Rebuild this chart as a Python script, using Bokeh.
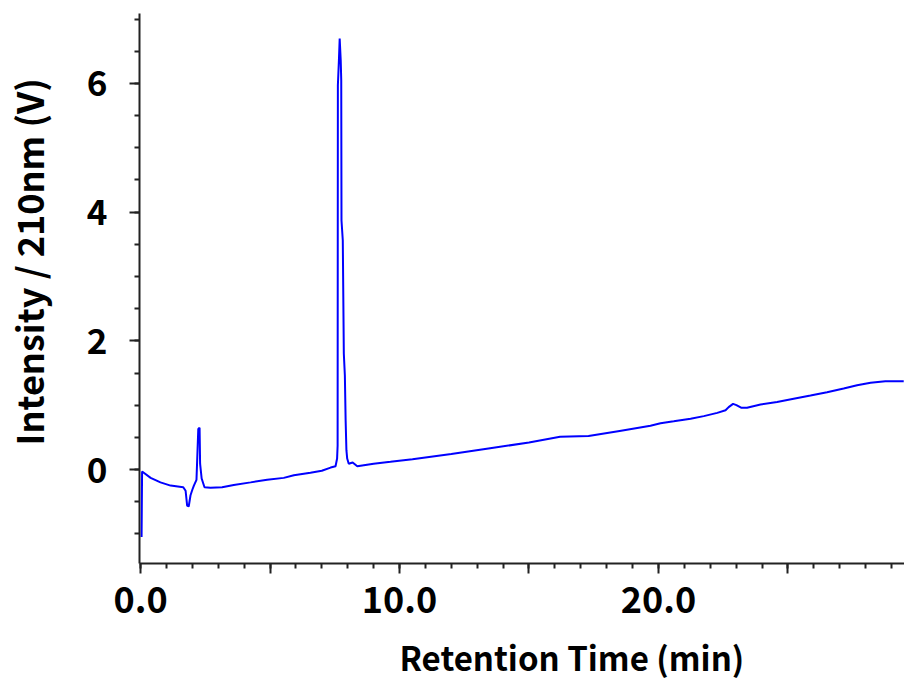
from bokeh.plotting import figure
from bokeh.models import Range1d, FixedTicker, Title
from bokeh.embed import file_html
from bokeh.resources import INLINE

# ---- data ----
time_min = [0.04, 0.06, 0.39, 0.77, 1.16, 1.65, 1.74, 1.80, 1.86, 1.93, 2.00, 2.06, 2.16,
            2.23, 2.28, 2.30, 2.36, 2.47, 2.70, 3.15, 3.60, 4.25, 4.89, 5.53, 5.92, 6.56,
            7.00, 7.34, 7.53, 7.59, 7.61, 7.62, 7.66, 7.69, 7.73, 7.75, 7.76, 7.81, 7.85,
            7.89, 7.92, 7.95, 7.98, 8.04, 8.19, 8.37, 9.00, 9.65, 10.5, 12.0, 13.5, 15.0,
            16.2, 17.3, 18.5, 19.69, 20.08, 20.59, 21.24, 21.75, 22.27, 22.59, 22.71, 22.88,
            23.01, 23.19, 23.42, 23.94, 24.58, 25.22, 25.87, 26.51, 27.15, 27.67, 28.19,
            28.76, 29.47]
intensity_v = [-1.05, -0.03, -0.13, -0.20, -0.25, -0.275, -0.33, -0.56, -0.575, -0.40, -0.315,
               -0.25, -0.16, 0.63, 0.65, 0.09, -0.14, -0.275, -0.285, -0.275, -0.24, -0.20,
               -0.16, -0.13, -0.09, -0.05, -0.02, 0.03, 0.05, 0.17, 0.37, 5.97, 6.36, 6.70,
               6.36, 6.05, 3.87, 3.56, 1.80, 1.46, 0.76, 0.30, 0.17, 0.09, 0.11, 0.05, 0.09,
               0.12, 0.16, 0.24, 0.33, 0.42, 0.51, 0.52, 0.60, 0.68, 0.72, 0.75, 0.79, 0.83,
               0.88, 0.92, 0.97, 1.02, 1.00, 0.96, 0.96, 1.01, 1.05, 1.10, 1.15, 1.20, 1.26,
               1.31, 1.35, 1.37, 1.37]

x_major_ticks = [0, 5, 10, 15, 20, 25]
x_minor_ticks = list(range(0, 30))
x_tick_labels = {0: "0.0", 5: "", 10: "10.0", 15: "", 20: "20.0", 25: ""}
y_major_ticks = [0, 2, 4, 6]
y_minor_ticks = [-1.0, -0.5, 0.0, 0.5, 1.0, 1.5, 2.0, 2.5, 3.0, 3.5, 4.0, 4.5, 5.0, 5.5, 6.0, 6.5, 7.0]
x_title = "Retention Time (min)"
y_title = "Intensity / 210nm (V)"

FONT = "Noto Sans CJK JP"

p = figure(width=904, height=686, output_backend="svg", toolbar_location=None,
           x_range=Range1d(-0.04, 29.5), y_range=Range1d(-1.461, 7.088),
           min_border_left=139, min_border_right=0, min_border_top=13, min_border_bottom=123)
p.outline_line_color = None
p.grid.visible = False
p.background_fill_color = "white"

p.line(time_min, intensity_v, line_color="#0000ff", line_width=2)

for ax in (p.xaxis[0], p.yaxis[0]):
    ax.axis_line_width = 2
    ax.axis_line_color = "#222222"
    ax.major_tick_line_width = 2
    ax.minor_tick_line_width = 2
    ax.major_tick_line_color = "#222222"
    ax.minor_tick_line_color = "#222222"
    ax.major_tick_in = 0
    ax.minor_tick_in = 0
    ax.major_tick_out = 10
    ax.minor_tick_out = 5
    ax.major_label_text_font = FONT
    ax.major_label_text_font_style = "bold"
    ax.major_label_text_color = "black"

p.xaxis.ticker = FixedTicker(ticks=x_major_ticks, minor_ticks=x_minor_ticks)
p.xaxis.major_label_overrides = x_tick_labels
p.xaxis.major_label_text_font_size = "36px"
p.xaxis.major_label_standoff = 12

p.yaxis.ticker = FixedTicker(ticks=y_major_ticks, minor_ticks=y_minor_ticks)
p.yaxis.major_label_text_font_size = "35px"
p.yaxis.major_label_standoff = 22

# blank spacers only take up room between each axis and its title
p.add_layout(Title(text=" ", standoff=2, text_font_size="10px"), "below")
p.add_layout(Title(text=x_title, align="left", offset=260, standoff=0,
                   text_font=FONT, text_font_style="bold", text_font_size="33px",
                   text_color="black"), "below")
p.add_layout(Title(text=" ", standoff=12, text_font_size="12px"), "left")
p.add_layout(Title(text=y_title, align="left", offset=118, standoff=0, vertical_align="top",
                   text_font=FONT, text_font_style="bold", text_font_size="36px",
                   text_color="black"), "left")

open("out.html", "w").write(file_html(p, INLINE))
